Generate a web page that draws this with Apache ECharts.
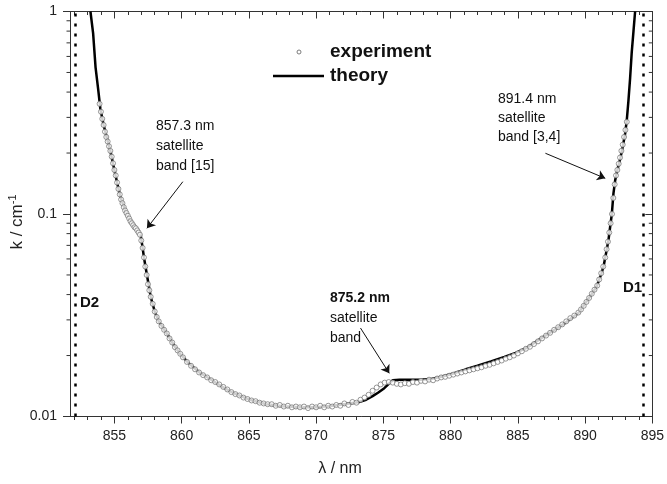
<!DOCTYPE html>
<html>
<head>
<meta charset="utf-8">
<script src="https://cdn.jsdelivr.net/npm/echarts@6/dist/echarts.min.js"></script>
<style>
  html, body { margin: 0; padding: 0; background: #fff; }
  #chart { width: 667px; height: 484px; }
</style>
</head>
<body>
<div id="chart"></div>
<script>
// theory curve (black line)
const theoryLambda = [853.22, 853.42, 853.6, 853.8, 853.96, 854.2, 854.46, 854.7, 855.0, 855.2, 855.44, 855.81, 856.1, 856.43, 856.7, 856.95,
  857.1, 857.2, 857.42, 857.7, 858.0, 858.3, 858.9, 859.5, 859.89, 860.5, 861.37, 862.0, 862.61, 863.2, 863.81, 864.4, 865.07,
  866.31, 867.54, 868.78, 870.01, 871.24, 872.48, 873.2, 873.72, 874.2, 874.6, 875.07, 875.4, 875.7, 876.2, 877.7, 878.5, 879.3,
  880.2, 881.13, 882.0, 883.0, 884.0, 884.83, 885.7, 886.56, 887.5, 888.53, 889.52, 890.01, 890.5, 890.87, 891.2, 891.37, 891.55,
  891.74, 891.87, 891.99, 892.11, 892.24, 892.42, 892.61, 892.8, 892.98, 893.1, 893.22, 893.35, 893.47, 893.6, 893.72];
const theoryK = [1.0, 0.78, 0.53, 0.41, 0.33, 0.275, 0.235, 0.205, 0.165, 0.143, 0.122, 0.104, 0.095, 0.088, 0.083, 0.079,
  0.068, 0.061, 0.050, 0.039, 0.033, 0.0295, 0.0257, 0.0221, 0.0204, 0.0184, 0.0164, 0.0155, 0.0146, 0.0138, 0.0131, 0.0126, 0.0121,
  0.0115, 0.01125, 0.0111, 0.0111, 0.0113, 0.0116, 0.0118, 0.0121, 0.0126, 0.0131, 0.0138, 0.0145, 0.0151, 0.0152, 0.0152, 0.0153, 0.0157,
  0.0163, 0.0171, 0.0178, 0.0187, 0.0197, 0.0206, 0.0219, 0.0239, 0.0262, 0.0290, 0.0325, 0.0362, 0.0403, 0.0440, 0.0505, 0.0549, 0.0635,
  0.0744, 0.0870, 0.100, 0.1265, 0.147, 0.167, 0.187, 0.215, 0.25, 0.29, 0.36, 0.47, 0.63, 0.80, 1.0];

// experiment (open circles)
const expLambda = [853.9, 854.0, 854.1, 854.2, 854.3, 854.4, 854.5, 854.6, 854.7, 854.8, 854.9, 855.0, 855.1, 855.2, 855.3, 855.4,
  855.5, 855.6, 855.7, 855.8, 855.9, 856.0, 856.1, 856.2, 856.3, 856.4, 856.5, 856.6, 856.7, 856.8, 856.9, 857.0, 857.1, 857.2,
  857.3, 857.4, 857.5, 857.6, 857.7, 857.85, 858.0, 858.15, 858.3, 858.5, 858.7, 858.9, 859.1, 859.3, 859.5, 859.7, 859.9, 860.1,
  860.4, 860.7, 861.0, 861.3, 861.6, 861.9, 862.2, 862.5, 862.8, 863.1, 863.4, 863.7, 864.0, 864.3, 864.6, 864.9, 865.2, 865.5,
  865.8, 866.1, 866.4, 866.7, 867.0, 867.3, 867.6, 867.9, 868.2, 868.5, 868.8, 869.1, 869.4, 869.7, 870.0, 870.3, 870.6, 870.9,
  871.2, 871.5, 871.8, 872.1, 872.4, 872.7, 873.0, 873.3, 873.6, 873.9, 874.2, 874.5, 874.8, 875.1, 875.4, 875.7, 876.0, 876.3,
  876.6, 876.9, 877.2, 877.5, 877.8, 878.1, 878.4, 878.7, 879.0, 879.3, 879.6, 879.9, 880.2, 880.5, 880.8, 881.1, 881.4, 881.7,
  882.0, 882.3, 882.6, 882.9, 883.2, 883.5, 883.8, 884.1, 884.4, 884.7, 885.0, 885.3, 885.6, 885.9, 886.2, 886.5, 886.8, 887.1,
  887.4, 887.7, 888.0, 888.3, 888.6, 888.9, 889.2, 889.5, 889.7, 889.9, 890.1, 890.3, 890.5, 890.7, 890.9, 891.05, 891.2, 891.35,
  891.5, 891.6, 891.7, 891.8, 891.9, 892.0, 892.1, 892.2, 892.3, 892.4, 892.5, 892.6, 892.7, 892.8, 892.9, 893.0, 893.1];
const expK = [0.35, 0.32, 0.295, 0.275, 0.255, 0.24, 0.228, 0.216, 0.205, 0.192, 0.178, 0.165, 0.155, 0.143, 0.133, 0.125,
  0.118, 0.113, 0.108, 0.104, 0.101, 0.098, 0.095, 0.092, 0.090, 0.088, 0.086, 0.085, 0.083, 0.081, 0.079, 0.074, 0.068, 0.061,
  0.055, 0.050, 0.045, 0.042, 0.039, 0.036, 0.033, 0.031, 0.0295, 0.028, 0.0268, 0.0257, 0.0243, 0.0232, 0.0220, 0.0212, 0.0204, 0.0196,
  0.0186, 0.0178, 0.0171, 0.0165, 0.0160, 0.0156, 0.0151, 0.0148, 0.0144, 0.0140, 0.0136, 0.0132, 0.0129, 0.0127, 0.0124, 0.0122, 0.0120, 0.0119,
  0.0117, 0.0116, 0.0115, 0.0115, 0.0113, 0.0114, 0.0112, 0.0113, 0.0111, 0.0112, 0.0111, 0.0112, 0.0110, 0.0112, 0.0111, 0.0113, 0.0111, 0.0113,
  0.0112, 0.0114, 0.0113, 0.0116, 0.0114, 0.0118, 0.0117, 0.0121, 0.0124, 0.0128, 0.0134, 0.0139, 0.0144, 0.0147, 0.0148, 0.0147, 0.0145, 0.0144,
  0.0146, 0.0145, 0.0148, 0.0147, 0.0150, 0.0149, 0.0152, 0.0151, 0.0154, 0.0156, 0.0157, 0.0159, 0.0161, 0.0163, 0.0165, 0.0167, 0.0169, 0.0171,
  0.0173, 0.0175, 0.0178, 0.0180, 0.0183, 0.0186, 0.0189, 0.0193, 0.0196, 0.0200, 0.0205, 0.0210, 0.0216, 0.0221, 0.0228, 0.0235, 0.0243, 0.0251,
  0.0259, 0.0268, 0.0276, 0.0285, 0.0295, 0.0306, 0.0315, 0.0326, 0.0338, 0.0352, 0.0368, 0.0385, 0.0404, 0.0423, 0.0443, 0.0475, 0.0510, 0.0550,
  0.0610, 0.0670, 0.0730, 0.0810, 0.0900, 0.1000, 0.1200, 0.1400, 0.1550, 0.1650, 0.1770, 0.1900, 0.2050, 0.2200, 0.2400, 0.2600, 0.2850];

const xMajorTicks = [855, 860, 865, 870, 875, 880, 885, 890, 895];
const xMinorTicks = [852, 853, 854, 856, 857, 858, 859, 861, 862, 863, 864, 866, 867, 868, 869, 871, 872, 873, 874,
  876, 877, 878, 879, 881, 882, 883, 884, 886, 887, 888, 889, 891, 892, 893, 894];
const yMinorTicks = [0.02, 0.03, 0.04, 0.05, 0.06, 0.07, 0.08, 0.09, 0.2, 0.3, 0.4, 0.5, 0.6, 0.7, 0.8, 0.9];

const lineD2 = 852.1;
const lineD1 = 894.35;

const xMin = 851.7, xMax = 895;
const FONT = '"Liberation Sans", Arial, sans-serif';

const chart = echarts.init(document.getElementById('chart'));

const baseX = {
  type: 'value', min: xMin, max: xMax, splitLine: { show: false },
  axisLine: { show: true, onZero: false, lineStyle: { color: '#333', width: 1 } }
};
const baseY = {
  type: 'log', logBase: 10, min: 0.01, max: 1, splitLine: { show: false },
  axisLine: { show: true, onZero: false, lineStyle: { color: '#333', width: 1 } }
};

const option = {
  backgroundColor: '#fff',
  animation: false,
  grid: { left: 70, right: 11, top: 11.5, bottom: 67.5, containLabel: false },
  xAxis: [
    Object.assign({}, baseX, {
      position: 'bottom',
      axisTick: { show: true, length: 7, customValues: xMajorTicks, lineStyle: { color: '#333' } },
      axisLabel: { customValues: xMajorTicks, margin: 13, fontSize: 14, color: '#222', fontFamily: FONT }
    }),
    Object.assign({}, baseX, {
      position: 'bottom',
      axisLine: { show: false },
      axisTick: { show: true, length: 3.5, customValues: xMinorTicks, lineStyle: { color: '#333' } },
      axisLabel: { show: false }
    }),
    Object.assign({}, baseX, {
      position: 'top',
      axisTick: { show: true, inside: true, length: 7, customValues: xMajorTicks, lineStyle: { color: '#333' } },
      axisLabel: { show: false }
    }),
    Object.assign({}, baseX, {
      position: 'top',
      axisLine: { show: false },
      axisTick: { show: true, inside: true, length: 3.5, customValues: xMinorTicks, lineStyle: { color: '#333' } },
      axisLabel: { show: false }
    })
  ],
  yAxis: [
    Object.assign({}, baseY, {
      position: 'left',
      axisTick: { show: true, length: 7, lineStyle: { color: '#333' } },
      axisLabel: { margin: 13, fontSize: 14, color: '#222', fontFamily: FONT }
    }),
    Object.assign({}, baseY, {
      position: 'right',
      axisTick: { show: true, inside: true, length: 7, lineStyle: { color: '#333' } },
      axisLabel: { show: false }
    })
  ],
  series: [
    {
      // log minor ticks, left outward and right inward
      type: 'custom',
      xAxisIndex: 0, yAxisIndex: 0,
      silent: true,
      data: yMinorTicks.map(v => [xMin, v]),
      encode: { x: 0, y: 1 },
      renderItem: function (params, api) {
        const cs = params.coordSys;
        const y = api.coord([api.value(0), api.value(1)])[1];
        const st = { stroke: '#333', lineWidth: 1 };
        return {
          type: 'group',
          children: [
            { type: 'line', shape: { x1: cs.x - 3.5, y1: y, x2: cs.x, y2: y }, style: st },
            { type: 'line', shape: { x1: cs.x + cs.width - 3.5, y1: y, x2: cs.x + cs.width, y2: y }, style: st }
          ]
        };
      }
    },
    {
      name: 'theory',
      type: 'line',
      xAxisIndex: 0, yAxisIndex: 0,
      data: theoryLambda.map((x, i) => [x, theoryK[i]]),
      showSymbol: false,
      symbol: 'none',
      lineStyle: { color: '#000', width: 2.5 },
      z: 3,
      markLine: {
        silent: true,
        symbol: ['none', 'arrow'],
        symbolSize: 8,
        label: { show: false },
        lineStyle: { color: '#111', width: 1, type: 'solid' },
        data: [
          [{ coord: [860.09, 0.1444] }, { coord: [857.42, 0.085] }],
          [{ coord: [887.05, 0.1995] }, { coord: [891.5, 0.150] }],
          [{ coord: [873.3, 0.02735] }, { coord: [875.44, 0.01634] }]
        ]
      }
    },
    {
      name: 'experiment',
      type: 'scatter',
      xAxisIndex: 0, yAxisIndex: 0,
      data: expLambda.map((x, i) => [x, expK[i]]),
      symbol: 'circle',
      symbolSize: 5,
      itemStyle: { color: '#fff', borderColor: '#6e6e6e', borderWidth: 0.9 },
      z: 4,
      markLine: {
        silent: true,
        symbol: 'none',
        label: { show: false },
        lineStyle: { color: '#000', width: 2.5, type: [3, 7] },
        data: [{ xAxis: lineD2 }, { xAxis: lineD1 }]
      }
    }
  ],
  graphic: [
    // axis names
    { type: 'text', x: 340, y: 469, style: { text: 'λ / nm', font: '16px ' + FONT, fill: '#222', align: 'center', verticalAlign: 'middle' } },
    {
      type: 'text', x: 17, y: 222, rotation: Math.PI / 2,
      style: {
        text: '{a|k / cm}{s|-1}', align: 'center', verticalAlign: 'middle',
        rich: {
          a: { fontSize: 17, fontFamily: FONT, fill: '#222', lineHeight: 20 },
          s: { fontSize: 11, fontFamily: FONT, fill: '#222', verticalAlign: 'top', lineHeight: 20 }
        }
      }
    },
    // legend
    { type: 'circle', shape: { cx: 299, cy: 52, r: 2 }, style: { fill: '#fff', stroke: '#6e6e6e', lineWidth: 0.9 } },
    { type: 'text', x: 330, y: 52, style: { text: 'experiment', font: 'bold 19px ' + FONT, fill: '#111', verticalAlign: 'middle' } },
    { type: 'line', shape: { x1: 273, y1: 76, x2: 324, y2: 76 }, style: { stroke: '#000', lineWidth: 2.5 } },
    { type: 'text', x: 330, y: 76, style: { text: 'theory', font: 'bold 19px ' + FONT, fill: '#111', verticalAlign: 'middle' } },
    // D lines
    { type: 'text', x: 80, y: 303, style: { text: 'D2', font: 'bold 15px ' + FONT, fill: '#111', verticalAlign: 'middle' } },
    { type: 'text', x: 623, y: 288, style: { text: 'D1', font: 'bold 15px ' + FONT, fill: '#111', verticalAlign: 'middle' } },
    // annotations
    { type: 'text', x: 156, y: 116, style: { text: '857.3 nm\nsatellite\nband [15]', font: '14px ' + FONT, fill: '#111', lineHeight: 20 } },
    { type: 'text', x: 498, y: 90, style: { text: '891.4 nm\nsatellite\nband [3,4]', font: '14px ' + FONT, fill: '#111', lineHeight: 19 } },
    {
      type: 'text', x: 330, y: 288,
      style: {
        text: '{b|875.2 nm}\n{n|satellite}\n{n|band}',
        rich: {
          b: { fontSize: 14, fontWeight: 'bold', fontFamily: FONT, fill: '#111', lineHeight: 20 },
          n: { fontSize: 14, fontFamily: FONT, fill: '#111', lineHeight: 20 }
        }
      }
    }
  ]
};

chart.setOption(option);
</script>
</body>
</html>
